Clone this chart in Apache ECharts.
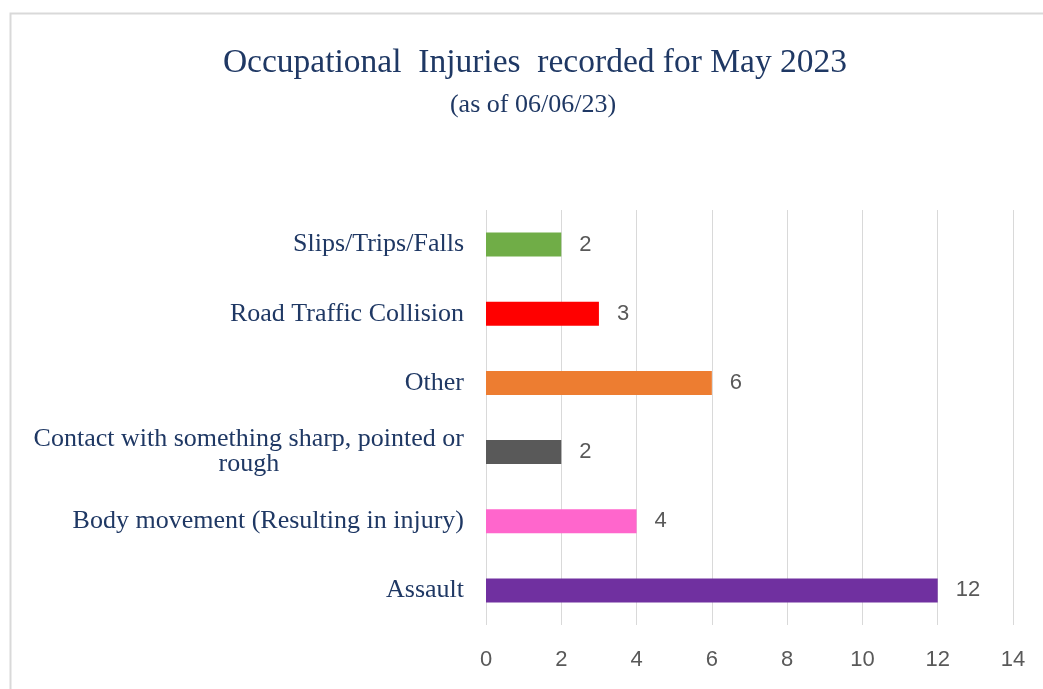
<!DOCTYPE html>
<html>
<head>
<meta charset="utf-8">
<script src="https://cdn.jsdelivr.net/npm/echarts@6/dist/echarts.min.js"></script>
<style>
  html, body { margin: 0; padding: 0; background: #fff; }
  #chart { width: 1043px; height: 689px; }
</style>
</head>
<body>
<div id="chart"></div>
<script>
// categories bottom -> top (Excel order)
const categories = [
  'Assault',
  'Body movement (Resulting in injury)',
  'Contact with something sharp, pointed or rough',
  'Other',
  'Road Traffic Collision',
  'Slips/Trips/Falls'
];
const injuries = [12, 4, 2, 6, 3, 2];
const xTicks = [0, 2, 4, 6, 8, 10, 12, 14];

const barColors = ['#7030A0', '#FF66CC', '#595959', '#ED7D31', '#FF0000', '#70AD47'];
const navy = '#1F3864';
const serif = '"Liberation Serif", "Times New Roman", serif';
const sans = '"Liberation Sans", Arial, sans-serif';

// wrap long labels, extra lines centred under the first one
function wrapLabel (val) {
  if (val.length <= 41) return val;
  let cut = val.lastIndexOf(' ', 41);
  return '{a|' + val.slice(0, cut) + '}\n{b|' + val.slice(cut + 1) + '}';
}

const labelStyle = { fontFamily: serif, fontSize: 26, color: navy, lineHeight: 25 };

let chart = echarts.init(document.getElementById('chart'));
chart.setOption({
  animation: false,
  title: [
    {
      text: 'Occupational  Injuries  recorded for May 2023',
      left: 530, top: 41, textAlign: 'center',
      textStyle: { fontFamily: serif, fontSize: 33.5, fontWeight: 'normal', color: navy }
    },
    {
      text: '(as of 06/06/23)',
      left: 528, top: 87, textAlign: 'center',
      textStyle: { fontFamily: serif, fontSize: 26, fontWeight: 'normal', color: navy }
    }
  ],
  graphic: [{
    type: 'rect',
    shape: { x: 10.5, y: 13.5, width: 1200, height: 900 },
    style: { fill: 'none', stroke: '#D9D9D9', lineWidth: 2 },
    silent: true, z: -1
  }],
  grid: { left: 486, right: 30, top: 210, bottom: 64 },
  xAxis: {
    type: 'value',
    min: xTicks[0],
    max: xTicks[xTicks.length - 1],
    interval: xTicks[1] - xTicks[0],
    axisLine: { show: false },
    axisTick: { show: false },
    splitLine: { lineStyle: { color: '#D9D9D9', width: 1 } },
    axisLabel: { color: '#595959', fontFamily: sans, fontSize: 22, margin: 24 }
  },
  yAxis: {
    type: 'category',
    data: categories,
    axisLine: { show: false },
    axisTick: { show: false },
    axisLabel: {
      margin: 22,
      fontFamily: serif, fontSize: 26, color: navy, lineHeight: 25,
      formatter: wrapLabel,
      rich: {
        a: labelStyle,
        b: Object.assign({ align: 'center' }, labelStyle)
      }
    }
  },
  series: [{
    type: 'bar',
    data: injuries.map((v, i) => ({ value: v, itemStyle: { color: barColors[i] } })),
    barWidth: 24,
    label: {
      show: true,
      position: 'right',
      distance: 18,
      color: '#595959',
      fontFamily: sans,
      fontSize: 22
    }
  }]
});
</script>
</body>
</html>
